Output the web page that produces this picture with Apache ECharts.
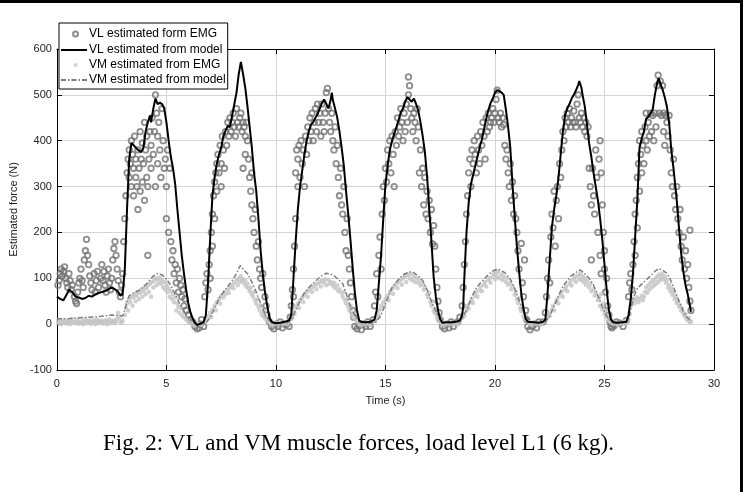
<!DOCTYPE html>
<html>
<head>
<meta charset="utf-8">
<script src="https://cdn.jsdelivr.net/npm/echarts@6/dist/echarts.min.js"></script>
<style>
html,body{margin:0;padding:0;background:#fff;}
#c{width:743px;height:492px;}
</style>
</head>
<body>
<div id="c"></div>
<script>
// ---- Data ----
const xTicks = [0, 5, 10, 15, 20, 25, 30];
const yTicks = [-100, 0, 100, 200, 300, 400, 500, 600];
const seriesNames = ['VL estimated form EMG', 'VL estimated from model', 'VM estimated from EMG', 'VM estimated from model'];
const xLabel = 'Time (s)';
const yLabel = 'Estimated force (N)';
const caption = 'Fig. 2: VL and VM muscle forces, load level L1 (6 kg).';

const vlModel = [[0,60],[0.15,55],[0.3,52],[0.45,65],[0.55,75],[0.7,70],[0.85,60],[1.0,58],[1.15,55],[1.3,57],[1.45,62],[1.6,60],[1.75,65],[1.9,68],[2.05,70],[2.2,72],[2.35,76],[2.5,80],[2.65,76],[2.8,70],[2.9,62],[3.0,65],[3.1,120],[3.2,250],[3.3,360],[3.4,395],[3.5,390],[3.6,385],[3.7,380],[3.85,375],[3.95,385],[4.05,420],[4.15,440],[4.25,455],[4.3,440],[4.4,470],[4.5,492],[4.6,480],[4.7,483],[4.8,480],[4.9,470],[5.0,440],[5.1,400],[5.2,365],[5.3,340],[5.4,305],[5.5,250],[5.6,200],[5.7,150],[5.8,110],[5.9,75],[6.0,45],[6.1,25],[6.2,12],[6.3,3],[6.4,-2],[6.5,0],[6.6,2],[6.7,5],[6.8,20],[6.9,90],[7.0,190],[7.1,280],[7.2,320],[7.3,350],[7.4,370],[7.5,385],[7.6,410],[7.7,422],[7.8,432],[7.9,430],[8.0,455],[8.1,480],[8.2,505],[8.3,545],[8.4,572],[8.5,545],[8.6,515],[8.7,475],[8.8,430],[8.9,385],[9.0,330],[9.1,290],[9.2,230],[9.3,160],[9.4,110],[9.5,70],[9.6,40],[9.7,15],[9.8,5],[9.9,3],[10.0,2],[10.2,3],[10.4,5],[10.6,8],[10.7,20],[10.8,100],[10.9,180],[11.0,250],[11.1,300],[11.2,335],[11.3,370],[11.4,400],[11.5,420],[11.6,435],[11.7,440],[11.8,450],[11.9,458],[12.0,470],[12.1,482],[12.2,490],[12.3,480],[12.4,470],[12.5,490],[12.55,505],[12.6,488],[12.7,470],[12.8,450],[12.9,420],[13.0,385],[13.1,345],[13.2,290],[13.3,240],[13.4,185],[13.5,125],[13.6,70],[13.7,30],[13.8,8],[13.9,5],[14.1,4],[14.3,5],[14.5,10],[14.6,30],[14.7,90],[14.8,150],[14.9,230],[15.0,305],[15.1,345],[15.2,380],[15.3,400],[15.4,415],[15.5,430],[15.6,445],[15.7,462],[15.8,470],[15.9,485],[16.0,495],[16.1,490],[16.2,485],[16.3,492],[16.4,480],[16.5,465],[16.6,440],[16.7,410],[16.8,375],[16.9,322],[17.0,250],[17.1,180],[17.2,103],[17.3,60],[17.4,30],[17.5,10],[17.6,3],[17.8,4],[18.0,4],[18.2,5],[18.4,8],[18.5,20],[18.55,38],[18.6,100],[18.7,200],[18.8,265],[18.9,305],[19.0,325],[19.1,345],[19.2,365],[19.3,385],[19.4,402],[19.5,425],[19.6,448],[19.7,467],[19.8,482],[19.9,492],[20.0,505],[20.1,510],[20.2,508],[20.3,505],[20.4,500],[20.5,467],[20.6,430],[20.7,385],[20.8,305],[20.9,235],[21.0,170],[21.1,115],[21.2,67],[21.3,35],[21.4,12],[21.5,5],[21.8,4],[22.0,3],[22.2,5],[22.3,10],[22.4,67],[22.5,140],[22.6,212],[22.7,250],[22.8,280],[22.9,320],[23.0,370],[23.1,420],[23.2,455],[23.3,470],[23.4,480],[23.5,492],[23.6,500],[23.7,510],[23.8,522],[23.85,530],[23.95,515],[24.0,500],[24.1,475],[24.2,435],[24.3,394],[24.4,365],[24.5,330],[24.6,300],[24.7,270],[24.8,230],[24.9,185],[25.0,130],[25.1,75],[25.2,31],[25.3,10],[25.4,4],[25.6,3],[25.8,4],[26.0,5],[26.1,20],[26.2,55],[26.3,110],[26.4,190],[26.5,270],[26.6,385],[26.7,405],[26.8,420],[26.9,448],[27.0,452],[27.1,460],[27.2,468],[27.3,500],[27.4,525],[27.47,536],[27.55,525],[27.65,512],[27.75,495],[27.85,474],[27.95,440],[28.05,380],[28.15,340],[28.3,270],[28.4,210],[28.5,155],[28.6,115],[28.7,85],[28.8,65],[28.9,40],[28.95,27]];

const vmModel = [[0,12],[0.5,12],[1.0,14],[1.5,15],[2.0,17],[2.5,20],[2.8,19],[3.0,18],[3.1,30],[3.2,50],[3.3,62],[3.5,68],[3.8,75],[4.1,88],[4.4,105],[4.6,110],[4.8,108],[5.0,98],[5.2,85],[5.4,65],[5.6,45],[5.8,28],[6.0,15],[6.2,5],[6.4,0],[6.6,0],[6.8,2],[7.0,15],[7.2,35],[7.4,55],[7.6,70],[7.8,82],[8.0,95],[8.2,110],[8.37,128],[8.5,120],[8.7,110],[8.9,92],[9.1,70],[9.3,45],[9.5,22],[9.7,8],[9.9,3],[10.2,3],[10.5,3],[10.7,10],[10.9,30],[11.1,50],[11.3,68],[11.5,80],[11.7,89],[11.9,98],[12.1,106],[12.3,111],[12.5,109],[12.7,104],[12.9,95],[13.05,88],[13.2,68],[13.35,45],[13.5,28],[13.65,16],[13.8,5],[14.0,2],[14.3,2],[14.6,5],[14.8,20],[15.0,45],[15.3,80],[15.5,92],[15.7,103],[15.9,110],[16.1,114],[16.3,112],[16.5,105],[16.7,95],[16.9,75],[17.1,50],[17.3,28],[17.5,12],[17.7,4],[18.0,3],[18.3,4],[18.5,12],[18.7,30],[18.9,55],[19.1,75],[19.3,88],[19.5,98],[19.7,108],[19.9,116],[20.1,120],[20.3,117],[20.5,110],[20.7,98],[20.9,78],[21.1,52],[21.3,28],[21.5,12],[21.7,4],[22.0,3],[22.3,5],[22.5,18],[22.7,40],[22.9,62],[23.1,82],[23.3,95],[23.5,106],[23.7,113],[23.9,118],[24.1,110],[24.3,100],[24.5,85],[24.7,62],[24.9,38],[25.1,18],[25.3,6],[25.5,3],[25.8,3],[26.0,5],[26.15,20],[26.3,55],[26.5,78],[26.8,92],[27.1,105],[27.3,115],[27.47,121],[27.65,118],[27.85,111],[28.0,98],[28.15,81],[28.3,62],[28.45,45],[28.6,28],[28.75,16],[28.9,9]];

const vlEmgRest = [[0.05,85],[0.1,95],[0.15,110],[0.2,120],[0.25,105],[0.3,115],[0.35,125],[0.4,100],[0.45,90],[0.5,80],[0.55,110],[0.6,95],[0.65,75],[0.7,85],[0.8,60],[0.85,50],[0.9,45],[0.95,70],[1.0,90],[1.05,100],[1.1,120],[1.15,95],[1.2,80],[1.25,140],[1.3,160],[1.35,185],[1.4,150],[1.45,130],[1.5,105],[1.55,90],[1.6,75],[1.7,110],[1.75,70],[1.8,95],[1.85,115],[1.9,80],[2.0,100],[2.05,130],[2.1,95],[2.15,115],[2.2,85],[2.25,70],[2.3,105],[2.35,120],[2.4,90],[2.45,75],[2.5,100],[2.55,140],[2.6,165],[2.65,180],[2.7,150],[2.75,120],[2.8,95],[2.85,70],[2.9,60],[2.95,85],[3.0,110]];
const vlEmgC1 = [[3.05,180],[3.1,230],[3.15,280],[3.2,330],[3.25,360],[3.3,380],[3.3,320],[3.35,350],[3.4,300],[3.4,400],[3.45,370],[3.5,340],[3.5,280],[3.55,410],[3.6,360],[3.6,320],[3.65,300],[3.7,380],[3.7,250],[3.75,340],[3.8,290],[3.8,420],[3.85,360],[3.9,310],[3.9,395],[3.95,350],[4.0,270],[4.0,440],[4.05,380],[4.1,320],[4.1,410],[4.15,300],[4.15,150],[4.2,360],[4.25,420],[4.3,390],[4.3,340],[4.35,450],[4.4,370],[4.45,420],[4.5,500],[4.5,300],[4.55,460],[4.6,410],[4.6,350],[4.65,440],[4.7,380],[4.75,320],[4.8,470],[4.85,400],[4.9,340],[4.95,360],[5.0,300],[5.0,230],[5.05,380],[5.1,200],[5.15,340],[5.2,180],[5.25,140],[5.3,160],[5.35,110],[5.4,130],[5.45,90],[5.5,120],[5.55,70],[5.6,100],[5.65,85],[5.7,60],[5.75,75],[5.8,40],[5.85,55],[5.9,30],[6.0,20],[6.1,10],[6.2,5],[6.3,-5],[6.4,-10],[6.5,-8],[6.55,0],[6.6,10],[6.7,-5]];
const vlEmgC2 = [[6.75,60],[6.8,90],[6.85,110],[6.9,75],[6.95,130],[7.0,160],[7.0,100],[7.05,200],[7.1,240],[7.1,170],[7.15,280],[7.2,310],[7.2,230],[7.25,330],[7.3,350],[7.3,290],[7.35,370],[7.4,330],[7.45,390],[7.5,350],[7.5,300],[7.55,410],[7.6,380],[7.65,340],[7.7,420],[7.75,390],[7.8,440],[7.85,410],[7.9,450],[7.95,420],[8.0,440],[8.05,460],[8.1,430],[8.15,410],[8.2,470],[8.25,440],[8.3,430],[8.35,450],[8.4,460],[8.45,420],[8.5,440],[8.5,340],[8.55,430],[8.6,410],[8.6,370],[8.65,440],[8.7,400],[8.75,360],[8.8,320],[8.85,290],[8.9,260],[8.9,330],[8.95,230],[9.0,200],[9.05,250],[9.1,170],[9.15,140],[9.2,180],[9.25,120],[9.3,100],[9.35,80],[9.4,110],[9.5,60],[9.55,40],[9.6,20],[9.7,5],[9.8,-5],[9.9,-10],[10.0,0],[10.1,-5],[10.2,5],[10.3,-8],[10.4,0]];
const vlEmgC3 = [[10.5,0],[10.6,-5],[10.65,15],[10.7,40],[10.75,75],[10.8,120],[10.8,60],[10.85,170],[10.9,330],[10.9,230],[10.95,380],[11.0,300],[11.0,360],[11.05,390],[11.1,320],[11.15,400],[11.2,350],[11.25,380],[11.3,300],[11.35,410],[11.4,370],[11.45,430],[11.5,400],[11.55,450],[11.6,420],[11.65,460],[11.7,400],[11.75,440],[11.8,470],[11.85,420],[11.9,480],[11.95,440],[12.0,460],[12.05,410],[12.1,480],[12.15,440],[12.2,420],[12.25,460],[12.3,505],[12.35,514],[12.4,470],[12.45,440],[12.5,420],[12.55,460],[12.6,400],[12.65,380],[12.7,430],[12.75,350],[12.8,390],[12.85,320],[12.9,280],[12.95,340],[13.0,260],[13.05,240],[13.1,300],[13.15,200],[13.2,160],[13.25,230],[13.3,150],[13.35,120],[13.4,90],[13.45,60],[13.5,30],[13.55,15],[13.6,-5],[13.7,-10],[13.8,-3],[13.9,-12],[14.0,0],[14.1,-5],[14.2,5],[14.3,-5]];
const vlEmgC4 = [[14.45,10],[14.5,40],[14.55,70],[14.6,110],[14.65,60],[14.7,150],[14.75,190],[14.8,120],[14.85,240],[14.9,300],[14.95,270],[15.0,340],[15.05,310],[15.1,380],[15.15,350],[15.2,400],[15.25,330],[15.3,410],[15.35,370],[15.4,300],[15.45,420],[15.5,390],[15.55,450],[15.6,410],[15.65,430],[15.7,470],[15.75,440],[15.8,400],[15.85,460],[15.9,420],[15.95,480],[16.0,440],[16.05,500],[16.05,539],[16.1,520],[16.15,470],[16.2,450],[16.25,420],[16.3,460],[16.35,440],[16.4,400],[16.45,470],[16.5,430],[16.55,330],[16.6,380],[16.65,300],[16.7,340],[16.75,260],[16.8,320],[16.85,240],[16.9,290],[16.95,230],[17.0,270],[17.05,200],[17.1,250],[17.15,175],[17.2,215],[17.25,170],[17.3,120],[17.35,80],[17.4,50],[17.45,25],[17.5,10],[17.6,-5],[17.7,-10],[17.8,0],[17.9,-8],[18.0,5],[18.1,-5]];
const vlEmgC5 = [[18.3,5],[18.4,15],[18.5,40],[18.55,80],[18.6,130],[18.65,180],[18.7,240],[18.75,280],[18.8,330],[18.85,360],[18.9,300],[18.95,380],[19.0,350],[19.05,400],[19.1,370],[19.15,330],[19.2,410],[19.25,380],[19.3,350],[19.35,420],[19.4,390],[19.45,440],[19.5,410],[19.55,360],[19.6,450],[19.65,420],[19.7,460],[19.75,430],[19.8,440],[19.85,450],[19.9,470],[19.95,440],[20.0,460],[20.05,490],[20.1,510],[20.15,450],[20.2,440],[20.25,460],[20.3,430],[20.35,450],[20.4,435],[20.45,390],[20.5,360],[20.55,380],[20.6,330],[20.65,300],[20.7,350],[20.75,270],[20.8,310],[20.85,240],[20.9,280],[20.95,230],[21.0,200],[21.05,160],[21.1,120],[21.2,176],[21.25,90],[21.3,60],[21.35,140],[21.4,30],[21.45,10],[21.5,-5],[21.6,-12],[21.7,-5],[21.8,0],[21.9,-8],[22.0,5]];
const vlEmgC6 = [[22.2,5],[22.3,25],[22.35,60],[22.4,100],[22.45,140],[22.5,90],[22.55,190],[22.6,240],[22.65,210],[22.7,290],[22.75,170],[22.8,270],[22.85,300],[22.9,230],[22.95,350],[23.0,320],[23.05,380],[23.1,420],[23.15,400],[23.2,450],[23.25,430],[23.3,460],[23.35,440],[23.4,470],[23.45,430],[23.5,450],[23.55,440],[23.6,465],[23.65,440],[23.7,430],[23.75,480],[23.8,500],[23.85,450],[23.9,440],[23.95,460],[24.0,430],[24.05,450],[24.1,420],[24.15,440],[24.2,410],[24.25,430],[24.3,340],[24.35,300],[24.4,260],[24.4,140],[24.45,340],[24.5,280],[24.55,240],[24.6,380],[24.65,320],[24.7,200],[24.75,360],[24.8,400],[24.8,150],[24.85,330],[24.85,110],[24.9,260],[24.95,200],[25.0,120],[25.0,160],[25.05,70],[25.1,100],[25.15,40],[25.2,20],[25.25,5],[25.3,-5],[25.35,-8],[25.4,0]];
const vlEmgC7 = [[25.45,-3],[25.55,5],[25.7,2],[25.85,-5],[26.0,8],[26.1,60],[26.15,90],[26.2,110],[26.25,75],[26.3,130],[26.35,180],[26.4,240],[26.4,150],[26.45,270],[26.5,320],[26.5,210],[26.55,350],[26.6,400],[26.6,290],[26.65,370],[26.7,330],[26.7,420],[26.75,390],[26.8,350],[26.85,430],[26.9,400],[26.9,460],[26.95,380],[27.0,440],[27.05,410],[27.1,460],[27.15,420],[27.2,455],[27.25,400],[27.3,460],[27.35,430],[27.4,520],[27.45,543],[27.5,460],[27.55,530],[27.6,455],[27.65,520],[27.7,420],[27.7,460],[27.75,390],[27.8,455],[27.85,440],[27.9,410],[27.95,455],[28.0,380],[28.05,330],[28.1,300],[28.15,360],[28.2,280],[28.25,250],[28.3,300],[28.35,230],[28.4,200],[28.45,250],[28.5,170],[28.55,140],[28.6,190],[28.65,120],[28.7,160],[28.75,100],[28.8,130],[28.85,80],[28.9,205],[28.9,50],[28.95,30]];

const vmEmgRest = [[0.05,5],[0.1,2],[0.15,8],[0.2,0],[0.25,4],[0.3,9],[0.35,3],[0.4,6],[0.45,1],[0.5,7],[0.55,4],[0.6,0],[0.65,6],[0.7,10],[0.75,3],[0.8,5],[0.85,2],[0.9,6],[0.95,9],[1.0,1],[1.05,4],[1.1,3],[1.15,8],[1.2,0],[1.25,5],[1.3,11],[1.35,2],[1.4,7],[1.45,4],[1.5,8],[1.55,1],[1.6,6],[1.65,3],[1.7,9],[1.75,0],[1.8,5],[1.85,10],[1.9,2],[1.95,6],[2.0,4],[2.05,8],[2.1,1],[2.15,6],[2.2,3],[2.25,9],[2.3,0],[2.35,5],[2.4,10],[2.45,2],[2.5,7],[2.55,4],[2.6,8],[2.65,2],[2.7,6],[2.75,12],[2.8,25],[2.85,15],[2.9,5],[2.95,3],[3.0,8]];
const vmEmgC1 = [[3.1,20],[3.15,35],[3.2,45],[3.25,30],[3.3,55],[3.35,48],[3.4,60],[3.45,40],[3.5,58],[3.55,65],[3.6,50],[3.65,62],[3.7,70],[3.75,55],[3.8,68],[3.85,75],[3.9,60],[3.95,72],[4.0,80],[4.05,65],[4.1,78],[4.15,85],[4.2,70],[4.25,88],[4.3,60],[4.35,92],[4.4,80],[4.45,95],[4.5,100],[4.55,85],[4.6,98],[4.65,90],[4.7,102],[4.75,88],[4.8,95],[4.85,80],[4.9,92],[4.95,75],[5.0,85],[5.05,70],[5.1,78],[5.15,60],[5.2,72],[5.25,55],[5.3,65],[5.35,48],[5.4,58],[5.45,30],[5.5,45],[5.55,38],[5.6,25],[5.65,35],[5.7,20],[5.8,15],[5.9,10],[6.0,5],[6.1,2],[6.2,0],[6.3,-3],[6.4,2],[6.5,0],[6.6,-2],[6.7,5]];
const vmEmgC2 = [[6.8,10],[6.9,18],[7.0,25],[7.05,15],[7.1,32],[7.2,40],[7.25,30],[7.3,48],[7.4,55],[7.45,45],[7.5,62],[7.6,58],[7.65,70],[7.7,65],[7.8,75],[7.85,68],[7.9,80],[8.0,85],[8.05,78],[8.1,90],[8.2,95],[8.25,85],[8.3,100],[8.35,92],[8.4,105],[8.45,95],[8.5,98],[8.55,88],[8.6,94],[8.65,82],[8.7,88],[8.75,78],[8.8,72],[8.85,80],[8.9,65],[8.95,60],[9.0,70],[9.05,52],[9.1,45],[9.15,55],[9.2,38],[9.25,30],[9.3,40],[9.35,22],[9.4,18],[9.45,28],[9.5,12],[9.6,8],[9.7,3],[9.8,0],[9.9,-2],[10.0,3],[10.1,0],[10.2,5],[10.3,-1],[10.4,2],[10.5,0],[10.6,4]];
const vmEmgC3 = [[10.7,12],[10.75,20],[10.8,30],[10.85,22],[10.9,38],[11.0,45],[11.05,35],[11.1,52],[11.2,58],[11.25,48],[11.3,64],[11.4,70],[11.45,60],[11.5,74],[11.6,78],[11.65,70],[11.7,82],[11.8,86],[11.85,76],[11.9,88],[12.0,92],[12.05,82],[12.1,95],[12.2,90],[12.25,98],[12.3,85],[12.4,96],[12.45,88],[12.5,92],[12.6,84],[12.65,90],[12.7,78],[12.8,85],[12.85,72],[12.9,76],[13.0,68],[13.05,60],[13.1,70],[13.15,52],[13.2,45],[13.25,55],[13.3,38],[13.35,30],[13.4,40],[13.45,22],[13.5,16],[13.55,25],[13.6,10],[13.7,5],[13.8,0],[13.9,-3],[14.0,4],[14.1,0],[14.2,2],[14.3,-2],[14.4,5]];
const vmEmgC4 = [[14.5,8],[14.6,15],[14.65,25],[14.7,18],[14.75,32],[14.8,40],[14.9,48],[14.95,38],[15.0,55],[15.1,62],[15.15,52],[15.2,70],[15.3,76],[15.35,66],[15.4,82],[15.5,88],[15.55,78],[15.6,92],[15.7,96],[15.75,86],[15.8,100],[15.9,104],[15.95,92],[16.0,108],[16.1,100],[16.15,110],[16.2,96],[16.3,104],[16.35,92],[16.4,100],[16.5,90],[16.55,96],[16.6,84],[16.7,88],[16.75,75],[16.8,80],[16.9,65],[16.95,58],[17.0,68],[17.05,48],[17.1,40],[17.15,50],[17.2,30],[17.25,24],[17.3,32],[17.35,15],[17.4,10],[17.5,5],[17.6,0],[17.7,-3],[17.8,3],[17.9,0],[18.0,4],[18.1,-2],[18.2,2],[18.3,0]];
const vmEmgC5 = [[18.4,8],[18.5,14],[18.55,22],[18.6,18],[18.7,30],[18.75,40],[18.8,34],[18.9,48],[18.95,55],[19.0,46],[19.1,62],[19.15,70],[19.2,60],[19.3,75],[19.35,82],[19.4,72],[19.5,86],[19.55,92],[19.6,82],[19.7,96],[19.75,100],[19.8,90],[19.9,104],[19.95,110],[20.0,98],[20.05,112],[20.1,104],[20.15,115],[20.2,100],[20.3,108],[20.35,96],[20.4,104],[20.5,92],[20.55,100],[20.6,86],[20.7,90],[20.75,76],[20.8,82],[20.9,64],[20.95,70],[21.0,55],[21.05,46],[21.1,56],[21.15,35],[21.2,28],[21.25,38],[21.3,18],[21.35,12],[21.4,20],[21.5,6],[21.6,0],[21.7,-3],[21.8,4],[21.9,0],[22.0,3],[22.1,-2],[22.2,4]];
const vmEmgC6 = [[22.3,8],[22.4,15],[22.45,24],[22.5,18],[22.6,32],[22.65,40],[22.7,30],[22.8,48],[22.85,55],[22.9,45],[23.0,62],[23.05,70],[23.1,60],[23.2,76],[23.25,82],[23.3,72],[23.4,88],[23.45,94],[23.5,84],[23.6,98],[23.65,104],[23.7,92],[23.8,106],[23.85,98],[23.9,110],[23.95,96],[24.0,104],[24.05,92],[24.1,100],[24.15,86],[24.2,94],[24.3,80],[24.35,88],[24.4,72],[24.5,76],[24.55,62],[24.6,68],[24.7,52],[24.75,58],[24.8,40],[24.85,66],[24.9,32],[24.95,45],[25.0,22],[25.05,30],[25.1,15],[25.15,20],[25.2,8],[25.3,3],[25.4,0],[25.5,4],[25.6,-2],[25.7,3],[25.8,0],[25.9,5],[26.0,2]];
const vmEmgC7 = [[26.1,10],[26.15,22],[26.2,40],[26.25,48],[26.3,55],[26.35,45],[26.4,52],[26.5,58],[26.55,48],[26.6,55],[26.7,62],[26.75,52],[26.8,60],[26.85,70],[26.9,80],[26.95,68],[27.0,85],[27.05,75],[27.1,90],[27.15,80],[27.2,94],[27.25,84],[27.3,98],[27.35,88],[27.4,104],[27.45,92],[27.5,108],[27.55,96],[27.6,102],[27.65,110],[27.7,98],[27.75,104],[27.8,90],[27.85,96],[27.9,80],[27.95,86],[28.0,72],[28.05,78],[28.1,64],[28.15,70],[28.2,55],[28.25,60],[28.3,46],[28.35,50],[28.4,38],[28.45,42],[28.5,30],[28.55,34],[28.6,24],[28.65,18],[28.7,22],[28.75,12],[28.8,8],[28.85,14],[28.9,4],[28.95,6]];

// ---- Build chart ----
const vlEmg = [].concat(vlEmgRest, vlEmgC1, vlEmgC2, vlEmgC3, vlEmgC4, vlEmgC5, vlEmgC6, vlEmgC7);
const vmEmg = [].concat(vmEmgRest, vmEmgC1, vmEmgC2, vmEmgC3, vmEmgC4, vmEmgC5, vmEmgC6, vmEmgC7);

const FONT = '"Liberation Sans", Arial, sans-serif';
const chart = echarts.init(document.getElementById('c'), null, {renderer: 'canvas'});

const axisCommon = {
  type: 'value',
  axisLine: {show: true, onZero: false, lineStyle: {color: '#000', width: 1}},
  axisTick: {show: true, inside: true, length: 5, lineStyle: {color: '#000', width: 1}}
};

const option = {
  animation: false,
  backgroundColor: '#fff',
  grid: {left: 52, right: 29, top: 49, bottom: 122, containLabel: false},
  legend: {
    orient: 'vertical', left: 59, top: 23,
    padding: [3, 2, 3, 1], itemGap: 2, itemWidth: 26, itemHeight: 14,
    backgroundColor: '#fff', borderColor: '#000', borderWidth: 1,
    textStyle: {fontSize: 12, color: '#000', fontFamily: FONT, padding: [0, 0, 0, -3]},
    z: 10,
    data: [
      {name: seriesNames[0], icon: 'path://M0,0M26,14M12,7a2.5,2.5 0 1,0 5,0a2.5,2.5 0 1,0 -5,0'},
      {name: seriesNames[1], itemStyle: {opacity: 0}},
      {name: seriesNames[2], icon: 'path://M0,0M26,14M12.5,7a2,2 0 1,0 4,0a2,2 0 1,0 -4,0'},
      {name: seriesNames[3], itemStyle: {opacity: 0}}
    ]
  },
  xAxis: [
    Object.assign({}, axisCommon, {
      position: 'bottom', min: xTicks[0], max: xTicks[xTicks.length - 1], interval: 5,
      axisLabel: {color: '#222', fontSize: 11, fontFamily: FONT, margin: 8},
      splitLine: {show: true, lineStyle: {color: '#d4d4d4', width: 1}},
      name: xLabel, nameLocation: 'middle', nameGap: 25,
      nameTextStyle: {color: '#222', fontSize: 11, fontFamily: FONT}
    }),
    Object.assign({}, axisCommon, {
      position: 'top', min: xTicks[0], max: xTicks[xTicks.length - 1], interval: 5,
      axisLabel: {show: false}, splitLine: {show: false}
    })
  ],
  yAxis: [
    Object.assign({}, axisCommon, {
      position: 'left', min: yTicks[0], max: yTicks[yTicks.length - 1], interval: 100,
      axisLabel: {color: '#222', fontSize: 11, fontFamily: FONT, margin: 5},
      splitLine: {show: true, lineStyle: {color: '#d4d4d4', width: 1}},
      name: yLabel, nameLocation: 'middle', nameGap: 28,
      nameTextStyle: {color: '#222', fontSize: 11, fontFamily: FONT}
    }),
    Object.assign({}, axisCommon, {
      position: 'right', min: yTicks[0], max: yTicks[yTicks.length - 1], interval: 100,
      axisLabel: {show: false}, splitLine: {show: false}
    })
  ],
  series: [
    {
      name: seriesNames[0], type: 'scatter', data: vlEmg, symbol: 'circle', symbolSize: 5.5,
      itemStyle: {color: 'rgba(255,255,255,0)', borderColor: '#727272', borderWidth: 1.8},
      z: 2
    },
    {
      name: seriesNames[2], type: 'scatter', data: vmEmg, symbol: 'circle', symbolSize: 4.5,
      itemStyle: {color: '#c4c4c4'},
      z: 3
    },
    {
      name: seriesNames[1], type: 'line', data: vlModel, symbol: 'none',
      lineStyle: {color: '#000', width: 2}, itemStyle: {color: '#000'},
      z: 5
    },
    {
      name: seriesNames[3], type: 'line', data: vmModel, symbol: 'none',
      lineStyle: {color: '#7d7d7d', width: 1.5, type: [5, 2, 1.5, 2]}, itemStyle: {color: '#7d7d7d'},
      z: 4
    }
  ],
  graphic: [
    {type: 'rect', shape: {x: 0, y: 0, width: 743, height: 3}, style: {fill: '#000'}},
    {type: 'rect', shape: {x: 740, y: 0, width: 3, height: 492}, style: {fill: '#000'}},
    {type: 'text', x: 103, y: 444, style: {text: caption, font: '23px "Liberation Serif", "Times New Roman", serif', fill: '#000', textAlign: 'left', textVerticalAlign: 'middle'}}
  ]
};
chart.setOption(option);
</script>
</body>
</html>
